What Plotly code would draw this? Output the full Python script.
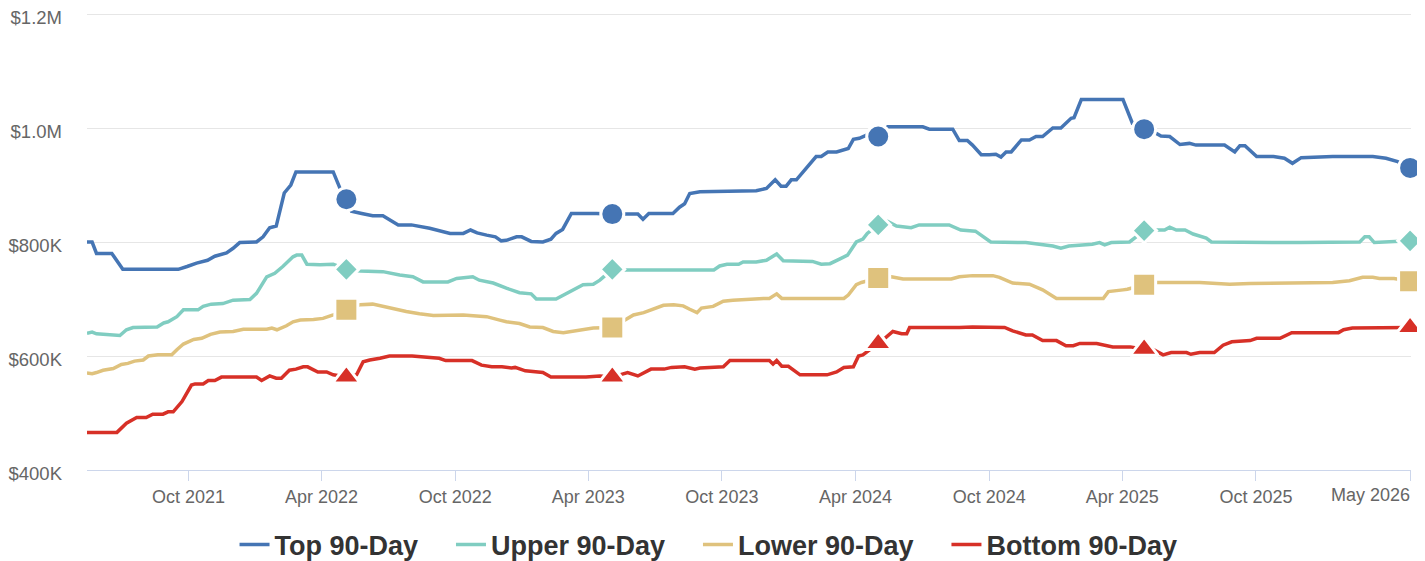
import plotly.graph_objects as go

# ---------------- data (values in thousands of dollars) ----------------
marker_dates = ["2022-05-05", "2023-05-04", "2024-05-02", "2025-05-01", "2026-04-30"]

top_dates = [
    "2021-05-15", "2021-05-22", "2021-05-28", "2021-06-18", "2021-07-03", "2021-09-17", "2021-09-29",
    "2021-10-12", "2021-10-27", "2021-11-06", "2021-11-22", "2021-12-01", "2021-12-10", "2022-01-02",
    "2022-01-11", "2022-01-20", "2022-01-29", "2022-02-09", "2022-02-18", "2022-02-25", "2022-04-17",
    "2022-04-26", "2022-05-05", "2022-05-12", "2022-05-26", "2022-06-10", "2022-06-24", "2022-07-15",
    "2022-08-02", "2022-08-27", "2022-09-24", "2022-10-12", "2022-10-22", "2022-10-31", "2022-11-13",
    "2022-11-25", "2022-12-03", "2022-12-10", "2022-12-24", "2022-12-31", "2023-01-13", "2023-01-29",
    "2023-02-09", "2023-02-16", "2023-02-25", "2023-03-09", "2023-04-12", "2023-05-04", "2023-06-08",
    "2023-06-15", "2023-06-23", "2023-07-26", "2023-08-04", "2023-08-11", "2023-08-18", "2023-09-01",
    "2023-11-17", "2023-12-01", "2023-12-13", "2023-12-21", "2023-12-28", "2024-01-04", "2024-01-11",
    "2024-01-20", "2024-02-07", "2024-02-14", "2024-02-23", "2024-03-06", "2024-03-22", "2024-03-29",
    "2024-04-06", "2024-04-17", "2024-05-02", "2024-05-15", "2024-07-02", "2024-07-11", "2024-08-12",
    "2024-08-21", "2024-09-01", "2024-09-08", "2024-09-20", "2024-10-01", "2024-10-10", "2024-10-17",
    "2024-10-24", "2024-10-31", "2024-11-14", "2024-11-25", "2024-12-04", "2024-12-13", "2024-12-27",
    "2025-01-07", "2025-01-21", "2025-01-25", "2025-02-04", "2025-04-02", "2025-04-15", "2025-05-01",
    "2025-05-17", "2025-05-24", "2025-06-05", "2025-06-19", "2025-07-02", "2025-07-11", "2025-08-19",
    "2025-09-02", "2025-09-09", "2025-09-16", "2025-10-02", "2025-10-25", "2025-11-09", "2025-11-20",
    "2025-12-02", "2026-01-14", "2026-03-10", "2026-03-28", "2026-04-13", "2026-04-30",
]
top_values = [
    800, 800, 780, 780, 752, 752, 757,
    763, 768, 775, 781, 789, 799, 800,
    809, 825, 828, 886, 900, 923, 923,
    895, 875, 854, 850, 846, 846, 830,
    830, 824, 815, 815, 821, 816, 812,
    809, 802, 803, 809, 809, 801, 800,
    805, 815, 822, 850, 850, 849, 849,
    840, 850, 850, 861, 867, 885, 888,
    890, 894, 909, 898, 898, 909, 909,
    922, 950, 950, 958, 958, 964, 980,
    982, 988, 985, 1002, 1002, 998, 998,
    978, 978, 970, 953, 953, 954, 949,
    958, 958, 979, 979, 985, 985, 1000,
    1000, 1017, 1018, 1050, 1050, 1008, 998,
    991, 986, 985, 971, 973, 970, 970,
    958, 969, 969, 950, 950, 947, 938,
    948, 950, 950, 947, 941, 930,
]

upper_dates = [
    "2021-05-15", "2021-05-22", "2021-05-28", "2021-06-29", "2021-07-08", "2021-07-17", "2021-08-19",
    "2021-08-28", "2021-09-03", "2021-09-15", "2021-09-24", "2021-10-14", "2021-10-21", "2021-11-01",
    "2021-11-17", "2021-12-01", "2021-12-24", "2022-01-02", "2022-01-16", "2022-01-27", "2022-02-07",
    "2022-02-21", "2022-02-26", "2022-03-05", "2022-03-12", "2022-03-30", "2022-04-17", "2022-05-05",
    "2022-05-24", "2022-06-24", "2022-07-17", "2022-08-04", "2022-08-18", "2022-09-21", "2022-10-03",
    "2022-10-25", "2022-11-03", "2022-11-22", "2022-12-10", "2022-12-28", "2023-01-13", "2023-01-20",
    "2023-02-16", "2023-03-07", "2023-03-25", "2023-04-08", "2023-04-17", "2023-05-04", "2023-05-22",
    "2023-09-20", "2023-09-28", "2023-10-08", "2023-10-24", "2023-10-30", "2023-11-17", "2023-12-01",
    "2023-12-08", "2023-12-15", "2023-12-24", "2024-01-11", "2024-02-02", "2024-02-14", "2024-02-26",
    "2024-03-10", "2024-03-21", "2024-04-02", "2024-04-11", "2024-04-17", "2024-05-02", "2024-05-15",
    "2024-05-27", "2024-06-16", "2024-06-27", "2024-08-07", "2024-08-23", "2024-09-12", "2024-10-03",
    "2024-11-20", "2024-12-27", "2025-01-07", "2025-01-18", "2025-02-19", "2025-03-01", "2025-03-08",
    "2025-03-17", "2025-04-11", "2025-05-01", "2025-05-18", "2025-05-29", "2025-06-05", "2025-06-14",
    "2025-06-26", "2025-07-07", "2025-07-25", "2025-08-01", "2025-11-30", "2026-02-20", "2026-02-27",
    "2026-03-05", "2026-03-12", "2026-04-13", "2026-04-30",
]
upper_values = [
    640, 642, 639, 636, 646, 650, 651,
    658, 660, 669, 681, 681, 687, 691,
    692, 698, 699, 710, 739, 745, 757,
    774, 777, 777, 761, 760, 761, 752,
    749, 748, 742, 739, 730, 730, 736,
    739, 733, 728, 719, 711, 709, 700,
    700, 713, 725, 726, 733, 752, 751,
    751, 758, 761, 761, 765, 765, 768,
    773, 779, 767, 766, 766, 761, 762,
    770, 777, 800, 805, 815, 830, 836,
    828, 825, 830, 830, 821, 819, 800,
    799, 793, 789, 793, 796, 799, 795,
    799, 800, 820, 821, 821, 826, 821,
    821, 814, 807, 800, 799, 800, 809,
    809, 799, 800, 802,
]

lower_dates = [
    "2021-05-15", "2021-05-22", "2021-05-28", "2021-06-06", "2021-06-20", "2021-07-01", "2021-07-10",
    "2021-07-19", "2021-07-31", "2021-08-07", "2021-08-20", "2021-09-08", "2021-09-15", "2021-09-24",
    "2021-10-08", "2021-10-19", "2021-10-31", "2021-11-13", "2021-12-01", "2021-12-15", "2022-01-16",
    "2022-01-23", "2022-01-30", "2022-02-06", "2022-02-12", "2022-02-21", "2022-03-03", "2022-03-21",
    "2022-04-03", "2022-04-17", "2022-05-05", "2022-05-24", "2022-06-10", "2022-06-24", "2022-07-17",
    "2022-07-26", "2022-08-13", "2022-09-01", "2022-10-12", "2022-11-13", "2022-12-01", "2022-12-10",
    "2022-12-28", "2023-01-11", "2023-01-29", "2023-02-12", "2023-02-26", "2023-03-11", "2023-03-25",
    "2023-04-08", "2023-05-04", "2023-05-24", "2023-06-02", "2023-06-16", "2023-06-30", "2023-07-13",
    "2023-07-27", "2023-08-09", "2023-08-18", "2023-08-28", "2023-09-03", "2023-09-19", "2023-10-03",
    "2023-10-16", "2023-11-27", "2023-12-05", "2023-12-15", "2023-12-22", "2024-03-16", "2024-03-22",
    "2024-04-02", "2024-04-09", "2024-05-02", "2024-05-20", "2024-06-05", "2024-08-10", "2024-08-21",
    "2024-09-08", "2024-10-06", "2024-10-15", "2024-11-02", "2024-11-25", "2024-12-13", "2025-01-01",
    "2025-03-06", "2025-03-13", "2025-04-02", "2025-04-08", "2025-05-01", "2025-05-17", "2025-07-16",
    "2025-08-26", "2025-09-23", "2026-01-14", "2026-02-06", "2026-02-24", "2026-03-10", "2026-03-19",
    "2026-04-08", "2026-04-30",
]
lower_values = [
    570, 569, 571, 575, 578, 585, 587,
    591, 593, 600, 602, 602, 611, 621,
    629, 631, 638, 642, 643, 647, 647,
    649, 646, 650, 653, 660, 663, 664,
    666, 672, 681, 690, 691, 687, 680,
    678, 674, 671, 672, 669, 663, 660,
    657, 651, 650, 643, 641, 644, 647,
    649, 650, 664, 672, 676, 682, 689,
    690, 688, 682, 676, 684, 687, 696,
    698, 701, 701, 709, 701, 701, 707,
    725, 729, 737, 739, 735, 735, 739,
    741, 741, 738, 728, 726, 716, 701,
    701, 713, 716, 717, 725, 729, 729,
    726, 727, 729, 732, 738, 738, 736,
    736, 731,
]

bottom_dates = [
    "2021-05-15", "2021-06-25", "2021-07-08", "2021-07-22", "2021-08-04", "2021-08-13", "2021-08-27",
    "2021-09-03", "2021-09-10", "2021-09-22", "2021-10-05", "2021-10-10", "2021-10-21", "2021-10-28",
    "2021-11-06", "2021-11-15", "2022-01-02", "2022-01-09", "2022-01-20", "2022-01-29", "2022-02-05",
    "2022-02-16", "2022-02-25", "2022-03-07", "2022-03-13", "2022-03-27", "2022-04-08", "2022-04-17",
    "2022-05-05", "2022-05-19", "2022-05-28", "2022-06-06", "2022-06-20", "2022-07-03", "2022-08-03",
    "2022-08-22", "2022-09-09", "2022-09-18", "2022-10-24", "2022-11-06", "2022-11-20", "2022-12-04",
    "2022-12-17", "2022-12-22", "2023-01-05", "2023-01-29", "2023-02-09", "2023-03-29", "2023-04-17",
    "2023-05-04", "2023-05-18", "2023-05-25", "2023-06-08", "2023-06-26", "2023-07-14", "2023-07-24",
    "2023-08-11", "2023-08-25", "2023-09-01", "2023-10-03", "2023-10-12", "2023-12-05", "2023-12-10",
    "2023-12-15", "2023-12-22", "2023-12-31", "2024-01-16", "2024-02-22", "2024-03-06", "2024-03-16",
    "2024-03-29", "2024-04-05", "2024-04-11", "2024-05-02", "2024-05-11", "2024-05-22", "2024-06-03",
    "2024-06-10", "2024-06-14", "2024-08-21", "2024-09-08", "2024-10-22", "2024-11-02", "2024-11-20",
    "2024-11-29", "2024-12-13", "2025-01-01", "2025-01-14", "2025-01-24", "2025-02-02", "2025-02-25",
    "2025-03-19", "2025-04-12", "2025-05-01", "2025-05-11", "2025-05-27", "2025-06-07", "2025-06-28",
    "2025-07-04", "2025-07-16", "2025-08-05", "2025-08-17", "2025-08-29", "2025-09-23", "2025-10-02",
    "2025-11-03", "2025-11-19", "2026-01-22", "2026-01-29", "2026-02-10", "2026-04-01", "2026-04-10",
    "2026-04-30",
]
bottom_values = [
    466, 466, 482, 492, 492, 498, 498,
    502, 502, 520, 549, 551, 551, 557,
    557, 563, 563, 557, 565, 561, 561,
    575, 577, 581, 581, 572, 572, 567,
    563, 567, 590, 593, 596, 600, 600,
    598, 596, 592, 592, 584, 581, 581,
    579, 580, 574, 571, 563, 563, 565,
    563, 568, 571, 565, 577, 577, 580,
    581, 577, 579, 581, 592, 592, 586,
    592, 582, 582, 567, 567, 572, 580,
    581, 600, 602, 622, 631, 643, 639,
    639, 650, 650, 651, 650, 644, 637,
    637, 627, 627, 618, 618, 622, 622,
    616, 616, 612, 613, 602, 606, 606,
    603, 606, 606, 619, 625, 627, 631,
    631, 641, 641, 646, 649, 650, 650,
    650,
]

series_names = ["Top 90-Day", "Upper 90-Day", "Lower 90-Day", "Bottom 90-Day"]

y_tick_values = [400, 600, 800, 1000, 1200]
y_tick_labels = ["$400K", "$600K", "$800K", "$1.0M", "$1.2M"]
x_tick_values = ["2021-10-01", "2022-04-01", "2022-10-01", "2023-04-01", "2023-10-01",
                 "2024-04-01", "2024-10-01", "2025-04-01", "2025-10-01", "2026-05-01"]
x_tick_labels = ["Oct 2021", "Apr 2022", "Oct 2022", "Apr 2023", "Oct 2023",
                 "Apr 2024", "Oct 2024", "Apr 2025", "Oct 2025", "May 2026"]

# ---------------- styling ----------------
colors = ["#4575b4", "#80cdc1", "#dfc27d", "#d73027"]
symbols = ["circle", "diamond", "square", "triangle-up"]
sizes = [23, 19, 23, 24]
FONT = "Liberation Sans, Arial, Helvetica, sans-serif"
GAP = "\u00a0" * 3 + "\u2009"  # spacing after legend labels
PX_PER_K = 456 / 800.0          # plot pixels per $1K
TOP_PAD_K = 2 / PX_PER_K         # keep the top gridline 2px inside the plot

all_series = [
    (top_dates, top_values),
    (upper_dates, upper_values),
    (lower_dates, lower_values),
    (bottom_dates, bottom_values),
]

fig = go.Figure()
for i, (dates, vals) in enumerate(all_series):
    yv = [v * 1000 for v in vals]
    label = series_names[i] + (GAP if i < len(all_series) - 1 else "")
    fig.add_trace(go.Scatter(
        x=dates, y=yv, mode="lines", name=label,
        line=dict(color=colors[i], width=3.5),
        legendgroup=series_names[i], showlegend=True,
    ))
    lookup = dict(zip(dates, yv))
    mx = [d for d in marker_dates if d in lookup]
    my = [lookup[d] for d in mx]
    fig.add_trace(go.Scatter(
        x=mx, y=my, mode="markers", name=series_names[i],
        marker=dict(symbol=symbols[i], size=sizes[i], color=colors[i],
                    line=dict(color="#ffffff", width=3)),
        legendgroup=series_names[i], showlegend=False, cliponaxis=False,
    ))

# last x tick label is right-aligned to its tick (as in the original chart)
tick_text_shown = x_tick_labels[:-1] + [""]
fig.add_annotation(
    x=x_tick_values[-1], xref="x", y=0, yref="paper",
    text=x_tick_labels[-1], showarrow=False,
    xanchor="right", yanchor="middle", yshift=-25, xshift=1,
    font=dict(family=FONT, size=18, color="#666666"),
)

fig.update_layout(
    width=1425, height=561,
    margin=dict(l=79, r=22, t=4, b=99, autoexpand=False),
    paper_bgcolor="#ffffff", plot_bgcolor="#ffffff",
    font=dict(family=FONT, color="#666666", size=18),
    showlegend=True,
    legend=dict(
        orientation="h", xref="container", yref="container",
        x=0.4916, xanchor="center", y=0.043, yanchor="middle",
        font=dict(family=FONT, size=27, color="#333333", weight="bold"),
        itemwidth=30, tracegroupgap=0,
    ),
    hovermode=False,
)
fig.update_xaxes(
    type="date", automargin=False,
    range=["2021-05-15", "2026-05-01 06:00"],
    tickmode="array", tickvals=x_tick_values, ticktext=tick_text_shown,
    showgrid=False, zeroline=False,
    showline=True, linecolor="#ccd6eb", linewidth=1,
    ticks="outside", ticklen=10, tickcolor="#ccd6eb", tickwidth=1,
    tickfont=dict(family=FONT, size=18, color="#666666"),
)
fig.update_yaxes(
    automargin=False,
    range=[400000, (1200 + TOP_PAD_K) * 1000],
    tickmode="array", tickvals=[v * 1000 for v in y_tick_values], ticktext=y_tick_labels,
    ticklabeloverflow="allow", ticklabelshift=4,
    showgrid=True, gridcolor="#e6e6e6", gridwidth=1,
    zeroline=False, showline=False,
    ticks="", ticklabelstandoff=24,
    tickfont=dict(family=FONT, size=18.5, color="#666666"),
)

fig.write_html("out.html")
